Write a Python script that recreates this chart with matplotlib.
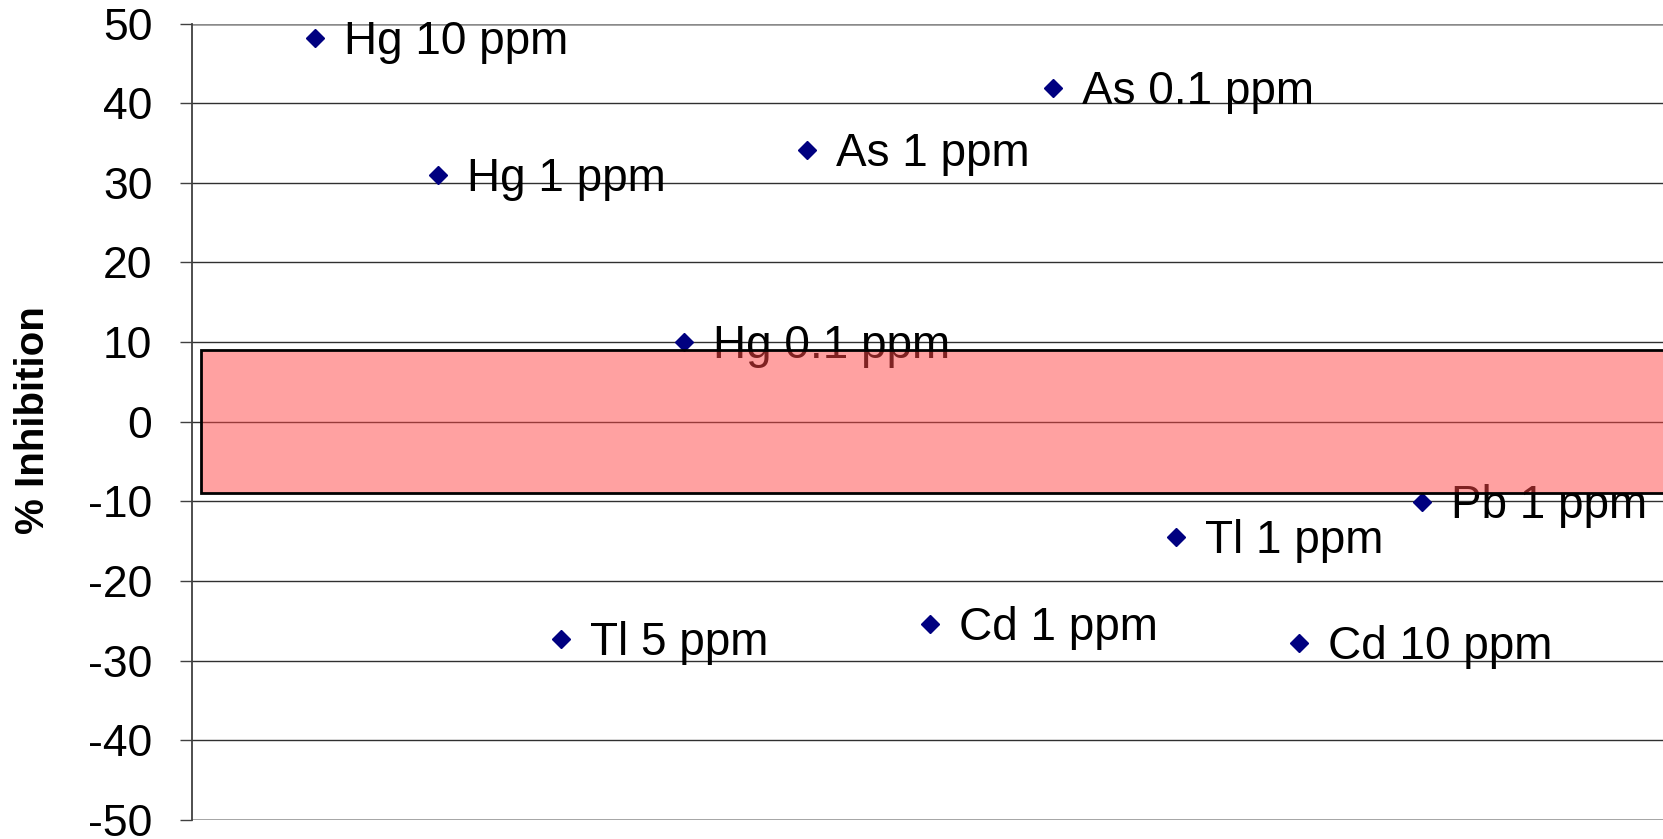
import matplotlib
matplotlib.use("Agg")
import matplotlib.pyplot as plt
from matplotlib.patches import Rectangle

plt.rcParams['font.family'] = ['Liberation Sans', 'DejaVu Sans']

# Samples and their % inhibition values
samples = ["Hg 10 ppm", "Hg 1 ppm", "Tl 5 ppm", "Hg 0.1 ppm", "As 1 ppm",
           "Cd 1 ppm", "As 0.1 ppm", "Tl 1 ppm", "Cd 10 ppm", "Pb 1 ppm"]
inhibition = [48.2, 31.0, -27.3, 10.0, 34.1, -25.4, 41.9, -14.5, -27.8, -10.1]
positions = list(range(1, len(samples) + 1))

# Acceptance band (no-effect range)
band_low, band_high = -9, 9
y_ticks = list(range(-50, 51, 10))

W, H = 1663, 839
fig = plt.figure(figsize=(W / 100, H / 100), dpi=100)
left, right, top, bottom = 192, 1663, 23.5, 820
ax = fig.add_axes([left / W, 1 - bottom / H, (right - left) / W, (bottom - top) / H])

ax.set_xlim(0, 11.96)
ax.set_ylim(-50, 50)

# Grid lines
for y in y_ticks:
    if y in (-50, 50):
        continue
    ax.axhline(y, color='#303030', lw=1.0, zorder=1)
ax.axhline(50, color='#8a8a8a', lw=1.8, zorder=1)
ax.axhline(-50, color='#8a8a8a', lw=1.8, zorder=1)

for s in ['top', 'right', 'bottom']:
    ax.spines[s].set_visible(False)
ax.spines['left'].set_color('#404040')
ax.spines['left'].set_linewidth(1.3)

ax.set_xticks([])
ax.set_yticks(y_ticks)
ax.set_yticklabels([str(v) for v in y_ticks])
ax.tick_params(axis='y', length=8.5, width=1.0, color='#404040', pad=20,
               labelsize=32)

fig.text(33 / W, 1 - 420 / H, '% Inhibition', fontsize=29, fontweight='bold',
         rotation=90, ha='center', va='center')

# Points and their labels
ax.plot(positions, inhibition, linestyle='none', marker='D', markersize=9,
        color='#000080', zorder=3)
for x, y, name in zip(positions, inhibition, samples):
    ax.annotate(name, (x, y), xytext=(21, -3), textcoords='offset points',
                ha='left', va='center', fontsize=33, color='black', zorder=4,
                annotation_clip=False)

# Semi-transparent band drawn over everything
band = Rectangle((0.07, band_low), 20, band_high - band_low,
                 facecolor=(1.0, 0.27, 0.27, 0.5), edgecolor='black',
                 lw=2.0, zorder=5)
ax.add_patch(band)

fig.savefig('out.png', dpi=100)
